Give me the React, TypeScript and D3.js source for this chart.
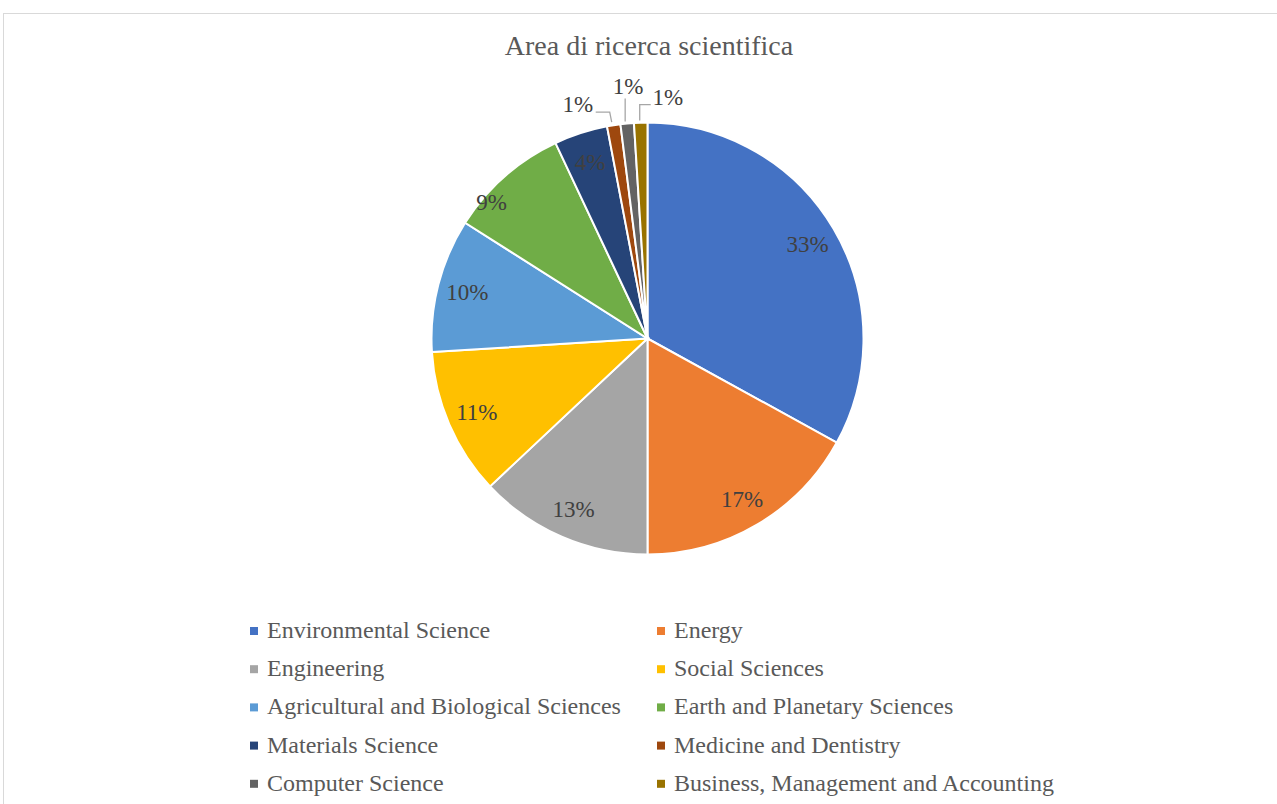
import React from "react";
import * as d3 from "d3";

const categories = [
  "Environmental Science",
  "Energy",
  "Engineering",
  "Social Sciences",
  "Agricultural and Biological Sciences",
  "Earth and Planetary Sciences",
  "Materials Science",
  "Medicine and Dentistry",
  "Computer Science",
  "Business, Management and Accounting",
];
const shares = [33, 17, 13, 11, 10, 9, 4, 1, 1, 1];
const colors = [
  "#4472C4", "#ED7D31", "#A5A5A5", "#FFC000", "#5B9BD5",
  "#70AD47", "#264478", "#9E480E", "#636363", "#997300",
];
const title = "Area di ricerca scientifica";

const W = 1277;
const H = 804;
const cx = 647.5;
const cy = 338.5;
const R = 216;
const labelR = 186;
const font = "'Liberation Serif', 'Times New Roman', serif";

// Best-fit nudges for inside labels that sit off the slice's mid-angle.
const labelNudge: Record<number, [number, number]> = { 5: [-33, 3] };

// Outside labels for the thinnest slices: offset of the label centre from the
// slice's outer edge point, and the shape of the leader line.
const outside: Record<number, { dx: number; dy: number; kind: "left" | "up" | "right" }> = {
  7: { dx: -36, dy: -13, kind: "left" },
  8: { dx: 1, dy: -30, kind: "up" },
  9: { dx: 27, dy: -18, kind: "right" },
};

export default function App() {
  const pie = d3.pie<number>().sort(null).value((d) => d);
  const arcs = pie(shares);
  const arc = d3.arc<d3.PieArcDatum<number>>().innerRadius(0).outerRadius(R);

  const polar = (r: number, a: number) => [r * Math.sin(a), -r * Math.cos(a)];

  const col1 = 250;
  const col2 = 657;
  const row0 = 638;
  const rowStep = 38.2;

  return (
    <svg
      width={W}
      height={H}
      style={{ position: "absolute", left: 0, top: 0, background: "#fff" }}
    >
      <rect x={3.5} y={13.5} width={1300} height={900} fill="#fff" stroke="#d9d9d9" strokeWidth={1} />
      <text
        x={649}
        y={55}
        textAnchor="middle"
        fontFamily={font}
        fontSize={28}
        fill="#595959"
      >
        {title}
      </text>
      <g transform={`translate(${cx},${cy})`}>
        {arcs.map((a, i) => (
          <path key={i} d={arc(a) || ""} fill={colors[i]} stroke="#fff" strokeWidth={2} />
        ))}
        {arcs.map((a, i) => {
          const mid = (a.startAngle + a.endAngle) / 2;
          const o = outside[i];
          if (!o) {
            const [x, y] = polar(labelR, mid);
            const [nx, ny] = labelNudge[i] ?? [0, 0];
            return (
              <text
                key={i}
                x={x + nx}
                y={y + ny}
                dy="0.35em"
                textAnchor="middle"
                fontFamily={font}
                fontSize={23}
                fill="#404040"
              >
                {`${a.data}%`}
              </text>
            );
          }
          const [ex, ey] = polar(R, mid);
          const lx = ex + o.dx;
          const ly = ey + o.dy - 8;
          let pts: [number, number][];
          if (o.kind === "left") {
            pts = [[ex - 2, ey - 3], [ex - 4, ey + o.dy], [lx + 18, ey + o.dy]];
          } else if (o.kind === "up") {
            pts = [[ex - 2, ey - 2], [ex - 2, ey + o.dy + 5]];
          } else {
            pts = [[ex - 1, ey - 2], [ex - 1, ey + o.dy], [lx - 17, ey + o.dy]];
          }
          return (
            <g key={i}>
              <polyline
                points={pts.map((p) => p.join(",")).join(" ")}
                fill="none"
                stroke="#a6a6a6"
                strokeWidth={1.3}
              />
              <text
                x={lx}
                y={ly}
                dy="0.35em"
                textAnchor="middle"
                fontFamily={font}
                fontSize={23}
                fill="#404040"
              >
                {`${a.data}%`}
              </text>
            </g>
          );
        })}
      </g>
      <g fontFamily={font} fontSize={24} fill="#595959">
        {categories.map((c, i) => {
          const x = i % 2 === 0 ? col1 : col2;
          const y = row0 + Math.floor(i / 2) * rowStep;
          return (
            <g key={c}>
              <rect x={x} y={y - 11} width={8} height={8} fill={colors[i]} />
              <text x={x + 17} y={y}>
                {c}
              </text>
            </g>
          );
        })}
      </g>
    </svg>
  );
}
